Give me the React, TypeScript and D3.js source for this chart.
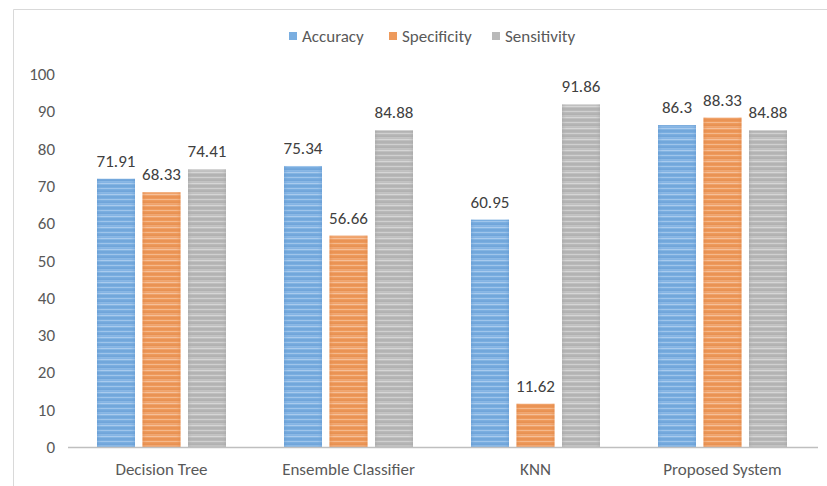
import React from "react";
import * as d3 from "d3";

const categories = ["Decision Tree", "Ensemble Classifier", "KNN", "Proposed System"];
const seriesNames = ["Accuracy", "Specificity", "Sensitivity"];
const accuracy = [71.91, 75.34, 60.95, 86.3];
const specificity = [68.33, 56.66, 11.62, 88.33];
const sensitivity = [74.41, 84.88, 91.86, 84.88];
const yTicks = [0, 10, 20, 30, 40, 50, 60, 70, 80, 90, 100];

const seriesValues = [accuracy, specificity, sensitivity];
const colors = ["#7aaee0", "#ee9a5c", "#b9b9b9"];
const darks = ["#5b92cc", "#dd7f3c", "#9e9e9e"];
const lights = ["#a9cbee", "#f6c099", "#d6d6d6"];

const W = 827;
const H = 486;
const FONT = "Carlito, Lato, 'Liberation Sans', sans-serif";

export default function App() {
  const x = d3.scaleBand<string>().domain(categories).range([68, 816]).padding(0);
  const groupW = 129;
  const inner = d3.scaleBand<string>().domain(seriesNames).range([0, groupW]).paddingInner(0.165);
  const y = d3.scaleLinear().domain([0, 100]).range([447, 74]);

  return (
    <svg
      width={W}
      height={H}
      style={{ position: "absolute", left: 0, top: 0, background: "#fff" }}
      fontFamily={FONT}
    >
      <defs>
        {seriesNames.map((s, i) => (
          <React.Fragment key={s}>
            <linearGradient id={`edge${i}`} x1="0" x2="1" y1="0" y2="0">
              <stop offset="0" stopColor={darks[i]} stopOpacity={0.35} />
              <stop offset="0.12" stopColor={colors[i]} stopOpacity={0} />
              <stop offset="0.88" stopColor={colors[i]} stopOpacity={0} />
              <stop offset="1" stopColor={darks[i]} stopOpacity={0.35} />
            </linearGradient>
            <pattern id={`stripe${i}`} width={10} height={11} patternUnits="userSpaceOnUse" y={447}>
              <rect width={10} height={11} fill={colors[i]} />
              <rect y={0} width={10} height={1.2} fill={lights[i]} />
              <rect y={2.5} width={10} height={1} fill={darks[i]} opacity={0.5} />
              <rect y={5} width={10} height={1} fill={lights[i]} opacity={0.8} />
              <rect y={7.5} width={10} height={1.3} fill={darks[i]} opacity={0.4} />
              <rect y={9.5} width={10} height={0.8} fill={lights[i]} opacity={0.7} />
            </pattern>
          </React.Fragment>
        ))}
      </defs>

      {/* chart frame */}
      <line x1={13.5} x2={13.5} y1={9.5} y2={H} stroke="#d9d9d9" strokeWidth={1} />
      <line x1={13.5} x2={W} y1={9.5} y2={9.5} stroke="#d9d9d9" strokeWidth={1} />

      {/* legend */}
      {seriesNames.map((s, i) => {
        const lx = [289, 389, 492][i];
        return (
          <g key={s}>
            <rect x={lx} y={32} width={8} height={8} fill={colors[i]} />
            <text x={lx + 13} y={42} fontSize={17} fill="#595959">
              {s}
            </text>
          </g>
        );
      })}

      {/* y axis tick labels */}
      {yTicks.map((t) => (
        <text key={t} x={55} y={y(t) + 6} textAnchor="end" fontSize={17} fill="#595959">
          {t}
        </text>
      ))}

      {/* bars */}
      {categories.map((c, ci) => {
        const gx = (x(c) as number) + (x.bandwidth() - groupW) / 2;
        return (
          <g key={c}>
            {seriesNames.map((s, si) => {
              const v = seriesValues[si][ci];
              const bx = gx + (inner(s) as number);
              const bw = inner.bandwidth();
              return (
                <g key={s}>
                  <rect x={bx} y={y(v)} width={bw} height={y(0) - y(v)} fill={`url(#stripe${si})`} />
                  <rect x={bx} y={y(v)} width={bw} height={y(0) - y(v)} fill={`url(#edge${si})`} />
                  <text
                    x={bx + bw / 2}
                    y={y(v) - 12}
                    textAnchor="middle"
                    fontSize={17}
                    fill="#404040"
                  >
                    {v}
                  </text>
                </g>
              );
            })}
            <text
              x={(x(c) as number) + x.bandwidth() / 2}
              y={475}
              textAnchor="middle"
              fontSize={17}
              fill="#595959"
            >
              {c}
            </text>
          </g>
        );
      })}

      {/* baseline */}
      <line x1={68} x2={818} y1={447.5} y2={447.5} stroke="#bfbfbf" strokeWidth={1.5} />
    </svg>
  );
}
